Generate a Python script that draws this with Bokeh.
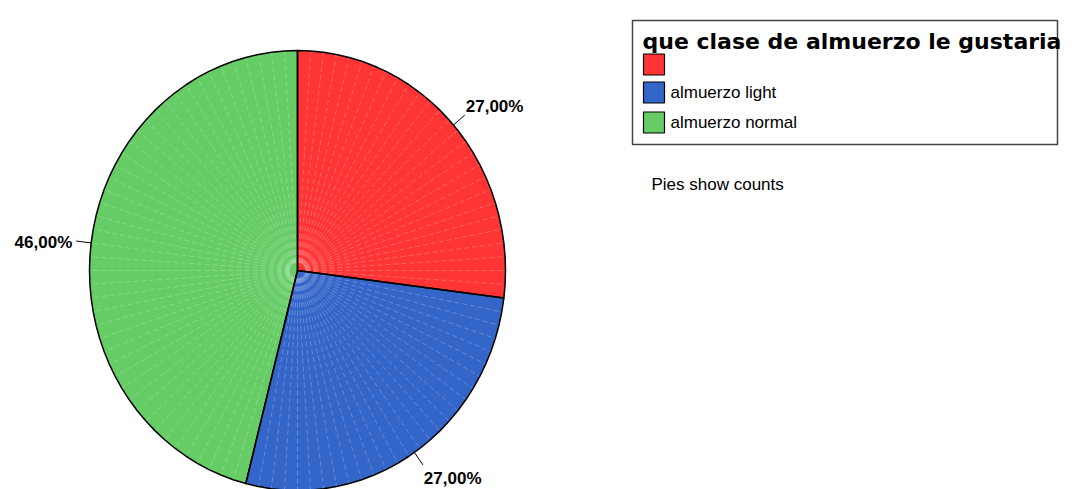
import numpy as np
from bokeh.plotting import figure
from bokeh.models import Range1d
from bokeh.core.properties import value
from bokeh.embed import file_html
from bokeh.resources import INLINE

# ---- data ----
categories = ["", "almuerzo light", "almuerzo normal"]
counts = [27, 27, 46]
colors = ["#FF3535", "#3465C9", "#66CC66"]
pct_labels = ["27,00%", "27,00%", "46,00%"]
legend_title = "que clase de almuerzo le gustaria"
note = "Pies show counts"

# ---- figure in page-pixel coordinates ----
W, H = 1075, 489
p = figure(width=W, height=H, x_range=Range1d(0, W), y_range=Range1d(H, 0),
           output_backend="svg", toolbar_location=None, min_border=0,
           x_axis_location=None, y_axis_location=None)
p.grid.visible = False
p.outline_line_color = None
p.background_fill_color = "white"

cx, cy, rx, ry = 297, 270, 208, 220
total = sum(counts)
cum = np.concatenate([[0], np.cumsum(counts)])

def ang(k):
    return np.deg2rad(90 - 360.0 * k / total)

xs, ys = [], []
for i in range(len(counts)):
    ks = np.arange(cum[i], cum[i + 1] + 1)
    a = ang(ks)
    xs.append([cx] + list(cx + rx * np.cos(a)))
    ys.append([cy] + list(cy - ry * np.sin(a)))

# faint per-count lines
fx, fy = [], []
for k in range(total):
    if k in cum:
        continue
    a = ang(k)
    fx.append([cx + 8 * np.cos(a), cx + rx * np.cos(a)])
    fy.append([cy - 8 * np.sin(a), cy - ry * np.sin(a)])

p.patches(xs, ys, fill_color=colors, line_color=None)
p.multi_line(fx, fy, line_color="white", line_alpha=0.3, line_width=0.8, line_dash="5 3")
p.patches(xs, ys, fill_color=None, line_color="black", line_width=1.5, line_join="round")

# percentage labels with leader lines
for i in range(len(counts)):
    mid = ang((cum[i] + cum[i + 1]) / 2.0)
    c, s = np.cos(mid), np.sin(mid)
    x0, y0 = cx + rx * c, cy - ry * s
    x1, y1 = x0 + 15 * c, y0 - 15 * s
    p.segment(x0=[x0], y0=[y0], x1=[x1], y1=[y1], line_color="black", line_width=1)
    if c >= 0:
        align, tx = "left", x1 + 1
    else:
        align, tx = "right", x1 - 4
    if s > 0.3:
        base, ty = "bottom", y1 + 1
    elif s < -0.3:
        base, ty = "top", y1 + 4
    else:
        base, ty = "middle", y1 + 1
    p.text(x=[tx], y=[ty], text=[pct_labels[i]], text_font=value("Liberation Sans"),
           text_font_style="bold", text_font_size="17px", text_align=align,
           text_baseline=base, text_color="black")

# legend box
p.quad(left=[632], right=[1057], top=[20], bottom=[144], fill_color=None,
       line_color="#444444", line_width=1.5)
p.text(x=[642], y=[41], text=[legend_title], text_font=value("DejaVu Sans"),
       text_font_style="bold", text_font_size="22px", text_align="left",
       text_baseline="middle", text_color="black")
sw_y = [64, 92, 122]
p.rect(x=[653.5] * 3, y=sw_y, width=21, height=21, fill_color=colors,
       line_color="black", line_width=1.2)
p.text(x=[670] * 3, y=sw_y, text=categories, text_font=value("Liberation Sans"),
       text_font_size="17px", text_align="left", text_baseline="middle",
       text_color="black")

p.text(x=[651], y=[184], text=[note], text_font=value("Liberation Sans"),
       text_font_size="17px", text_align="left", text_baseline="middle",
       text_color="black")

open("out.html", "w").write(file_html(p, INLINE))
